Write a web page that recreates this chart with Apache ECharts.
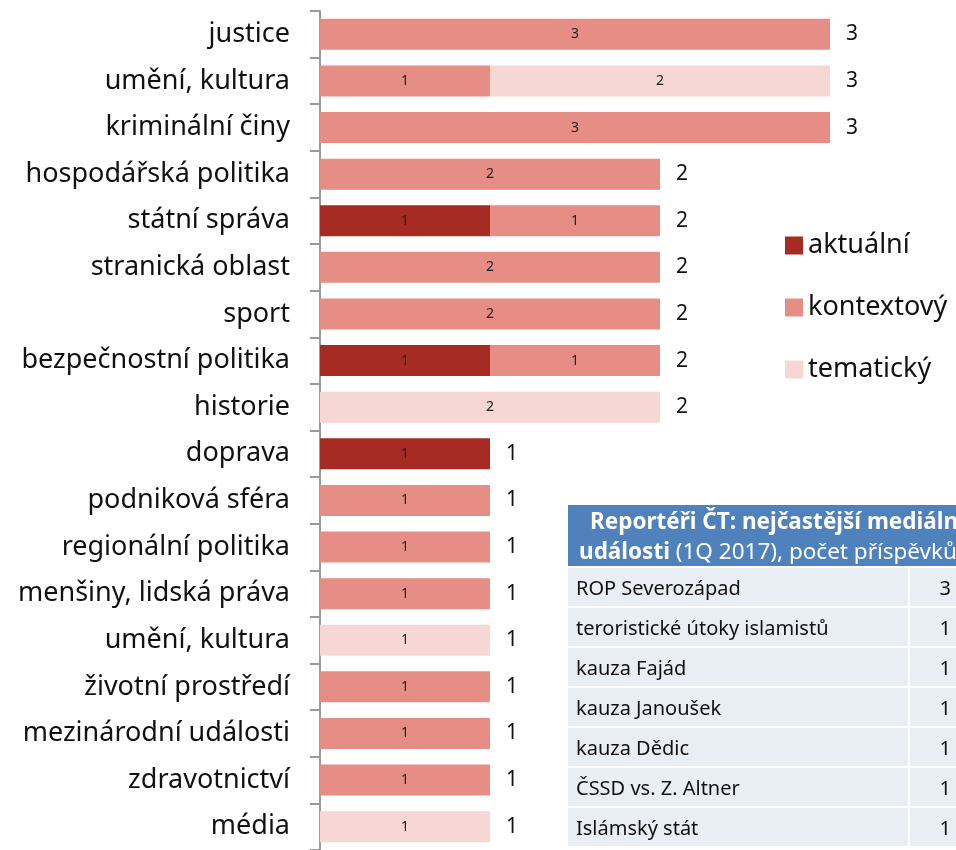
<!DOCTYPE html>
<html>
<head>
<meta charset="utf-8">
<script src="https://cdn.jsdelivr.net/npm/echarts@6/dist/echarts.min.js"></script>
<style>
  html, body { margin: 0; padding: 0; background: #fff; }
  #chart { width: 956px; height: 850px; }
</style>
</head>
<body>
<div id="chart"></div>
<script>
// kategorie shora dolů
const categories = [
  "justice", "umění, kultura", "kriminální činy", "hospodářská politika",
  "státní správa", "stranická oblast", "sport", "bezpečnostní politika",
  "historie", "doprava", "podniková sféra", "regionální politika",
  "menšiny, lidská práva", "umění, kultura", "životní prostředí",
  "mezinárodní události", "zdravotnictví", "média"
];
const aktualni   = [0, 0, 0, 0, 1, 0, 0, 1, 0, 1, 0, 0, 0, 0, 0, 0, 0, 0];
const kontextovy = [3, 1, 3, 2, 1, 2, 2, 1, 0, 0, 1, 1, 1, 0, 1, 1, 1, 0];
const tematicky  = [0, 2, 0, 0, 0, 0, 0, 0, 2, 0, 0, 0, 0, 1, 0, 0, 0, 1];
const totals     = [3, 3, 3, 2, 2, 2, 2, 2, 2, 1, 1, 1, 1, 1, 1, 1, 1, 1];

// tabulka
const tableTitle1 = "Reportéři ČT: nejčastější mediální";
const tableTitle2a = "události";
const tableTitle2b = " (1Q 2017), počet příspěvků";
const tableNames = [
  "ROP Severozápad", "teroristické útoky islamistů", "kauza Fajád",
  "kauza Janoušek", "kauza Dědic", "ČSSD vs. Z. Altner", "Islámský stát"
];
const tableCounts = [3, 1, 1, 1, 1, 1, 1];

const FONT = "'Noto Sans', 'Open Sans', sans-serif";
const COLORS = {
  aktualni: "#A62B22",
  kontextovy: "#E68E85",
  tematicky: "#F7D7D4",
  axis: "#9a9a9a",
  tableHead: "#4F81BD",
  tableRow: "#E9EDF4",
};

const chart = echarts.init(document.getElementById("chart"));

const innerLabel = {
  show: true,
  position: "inside",
  color: "#222",
  fontSize: 14,
  fontFamily: FONT,
  formatter: p => (p.value ? p.value : ""),
};

const makeSeries = (name, data, color) => ({
  name,
  type: "bar",
  stack: "total",
  barWidth: 31,
  data,
  itemStyle: { color },
  label: innerLabel,
  emphasis: { disabled: true },
});

// tabulka jako grafika
const tableX = 568;
const headTop = 505;
const rowTop = 568;
const rowH = 38;
const rowStep = 40;
const colSplit = 908;

const graphics = [
  { type: "rect", shape: { x: tableX, y: headTop, width: 420, height: 61 }, style: { fill: COLORS.tableHead } },
  {
    type: "text", x: 590, y: 523,
    style: { text: tableTitle1, fill: "#fff", font: "bold 22.5px " + FONT, verticalAlign: "middle" },
  },
  {
    type: "text", x: 579, y: 553,
    style: {
      text: "{b|" + tableTitle2a + "}{n|" + tableTitle2b + "}",
      verticalAlign: "middle",
      rich: {
        b: { fill: "#fff", font: "bold 22.5px " + FONT },
        n: { fill: "#fff", font: "22.5px " + FONT },
      },
    },
  },
];
tableNames.forEach((name, i) => {
  const y = rowTop + i * rowStep;
  graphics.push(
    { type: "rect", shape: { x: tableX, y, width: colSplit - tableX, height: rowH }, style: { fill: COLORS.tableRow } },
    { type: "rect", shape: { x: colSplit + 2, y, width: 80, height: rowH }, style: { fill: COLORS.tableRow } },
    { type: "text", x: 576, y: y + rowH / 2 + 2, style: { text: name, fill: "#111", font: "20px " + FONT, verticalAlign: "middle" } },
    { type: "text", x: 951, y: y + rowH / 2 + 2, style: { text: String(tableCounts[i]), fill: "#111", font: "20px " + FONT, verticalAlign: "middle", align: "right" } }
  );
});

chart.setOption({
  animation: false,
  textStyle: { fontFamily: FONT },
  grid: { left: 320, top: 11, width: 510, height: 844, containLabel: false },
  legend: {
    data: ["aktuální", "kontextový", "tematický"],
    orient: "vertical",
    left: 780,
    top: 227,
    itemWidth: 18,
    itemHeight: 18,
    itemGap: 35,
    icon: "rect",
    textStyle: { fontSize: 27, color: "#111", fontFamily: FONT },
  },
  xAxis: { type: "value", min: 0, max: 3, show: false },
  yAxis: {
    type: "category",
    inverse: true,
    data: categories,
    axisLine: { lineStyle: { color: COLORS.axis, width: 2 } },
    axisTick: { show: true, length: 10, lineStyle: { color: COLORS.axis, width: 2 } },
    axisLabel: { color: "#111", fontSize: 27, fontFamily: FONT, margin: 30, padding: [4, 0, 0, 0] },
  },
  series: [
    {
      name: "celkem",
      type: "bar",
      barWidth: 31,
      barGap: "-100%",
      data: totals,
      itemStyle: { color: "rgba(0,0,0,0)" },
      label: { show: true, position: "right", distance: 16, color: "#111", fontSize: 21, fontFamily: FONT, padding: [3, 0, 0, 0] },
      z: 1,
      emphasis: { disabled: true },
    },
    makeSeries("aktuální", aktualni, COLORS.aktualni),
    makeSeries("kontextový", kontextovy, COLORS.kontextovy),
    makeSeries("tematický", tematicky, COLORS.tematicky),
  ],
  graphic: graphics,
});
</script>
</body>
</html>
